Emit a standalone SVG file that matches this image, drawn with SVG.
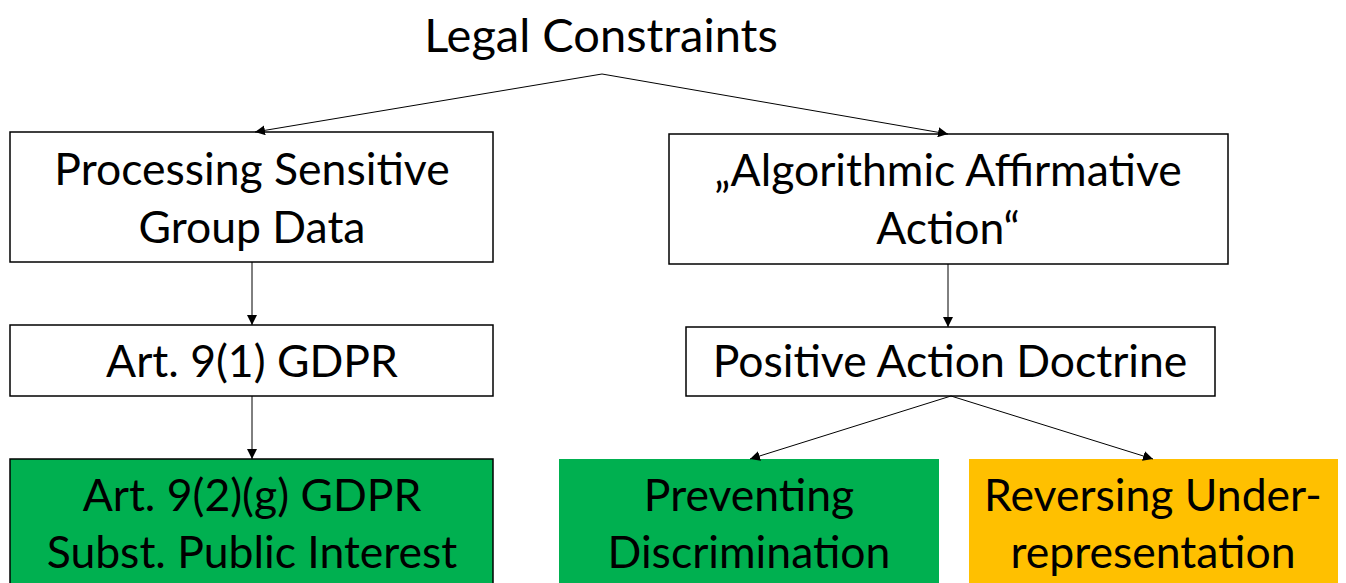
<svg xmlns="http://www.w3.org/2000/svg" width="1346" height="583" viewBox="0 0 1346 583">
<defs>
<style>
.t{font-family:"Lato","Open Sans","Liberation Sans",sans-serif;font-size:44.5px;fill:#000;text-anchor:middle}
.h{font-size:47px}
.box{fill:#fff;stroke:#000;stroke-width:1.5}
.g{fill:#00B050}
.gb{fill:#00B050;stroke:#000;stroke-width:1.5}
.o{fill:#FFC000}
.c{stroke:#000;stroke-width:1;fill:none;marker-end:url(#ah)}
</style>
<marker id="ah" viewBox="0 0 10 10" refX="10" refY="5" markerWidth="10" markerHeight="10" markerUnits="userSpaceOnUse" orient="auto">
<path d="M0,0 L10,5 L0,10 z" fill="#000"/>
</marker>
</defs>
<rect width="1346" height="583" fill="#fff"/>
<g id="title"><text class="t h" x="601" y="52">Legal Constraints</text></g>
<g id="n1"><rect class="box" x="10" y="132" width="483" height="130"/>
<text class="t" x="252" y="185">Processing Sensitive</text><text class="t" x="252" y="243">Group Data</text></g>
<g id="n2"><rect class="box" x="669" y="134" width="559" height="130"/>
<text class="t" x="948" y="186">„Algorithmic Affirmative</text><text class="t" x="948" y="244">Action“</text></g>
<g id="n3"><rect class="box" x="10" y="325" width="483" height="71"/>
<text class="t" x="252" y="377">Art. 9(1) GDPR</text></g>
<g id="n4"><rect class="box" x="686" y="327" width="529" height="69"/>
<text class="t" x="950" y="377">Positive Action Doctrine</text></g>
<g id="n5"><rect class="gb" x="10" y="459" width="483" height="130"/>
<text class="t" x="252" y="511">Art. 9(2)(g) GDPR</text><text class="t" x="252" y="568">Subst. Public Interest</text></g>
<g id="n6"><rect class="g" x="559" y="459" width="380" height="130"/>
<text class="t" x="749" y="511">Preventing</text><text class="t" x="749" y="568">Discrimination</text></g>
<g id="n7"><rect class="o" x="969" y="459" width="369" height="130"/>
<text class="t" x="1153" y="511">Reversing Under-</text><text class="t" x="1153" y="568">representation</text></g>
<g id="connectors">
<path class="c" d="M602,74 L255,132"/>
<path class="c" d="M602,74 L948,134"/>
<path class="c" d="M252,262 L252,325"/>
<path class="c" d="M252,396 L252,459"/>
<path class="c" d="M948,264 L948,327"/>
<path class="c" d="M951,396 L750,459"/>
<path class="c" d="M951,396 L1153,459"/>
</g>
</svg>
